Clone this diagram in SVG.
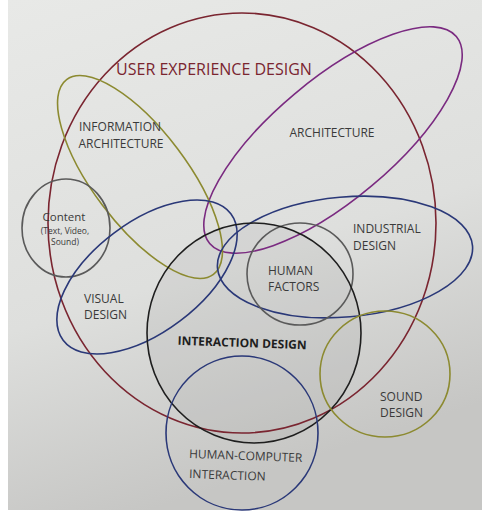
<svg xmlns="http://www.w3.org/2000/svg" width="482" height="516" viewBox="0 0 482 516">
<defs>
<linearGradient id="bg" x1="0" y1="0" x2="0.3" y2="1">
<stop offset="0" stop-color="#e8e9e7"/>
<stop offset="0.6" stop-color="#dedfdd"/>
<stop offset="1" stop-color="#c6c6c4"/>
</linearGradient>
<style>
.c{fill:none;stroke-width:1.6}
.t{font-family:"Open Sans","Noto Sans","Liberation Sans",sans-serif;fill:#3a3a3a;font-size:12px}
.sm{font-size:8.5px}
</style>
</defs>
<rect width="482" height="516" fill="#ffffff"/>
<rect x="8" y="0" width="474" height="510" fill="url(#bg)"/>
<g id="interaction-design-fill"><ellipse cx="254" cy="333" rx="107" ry="110" fill="#8a8a8a" fill-opacity="0.12"/></g>
<g id="connectors"></g>
<g id="ux-design"><ellipse class="c" cx="242" cy="223" rx="194" ry="210" stroke="#7a2530"/>
<text class="t" x="214" y="75" text-anchor="middle" style="font-size:16px;fill:#7a2530">USER EXPERIENCE DESIGN</text></g>
<g id="architecture"><ellipse class="c" cx="333" cy="140" rx="161" ry="60" transform="rotate(-40 333 140)" stroke="#7a2a80"/>
<text class="t" x="332" y="137" text-anchor="middle">ARCHITECTURE</text></g>
<g id="information-architecture"><ellipse class="c" cx="140" cy="177" rx="122" ry="47" transform="rotate(53 140 177)" stroke="#8c8a30"/>
<text class="t" x="120" y="131" text-anchor="middle">INFORMATION</text>
<text class="t" x="121" y="148" text-anchor="middle">ARCHITECTURE</text></g>
<g id="content"><ellipse class="c" cx="66" cy="228" rx="44" ry="49" stroke="#5a5a5a"/>
<text class="t" x="64" y="221" text-anchor="middle" style="font-size:11.5px">Content</text>
<text class="t sm" x="65" y="234" text-anchor="middle">(Text, Video,</text>
<text class="t sm" x="65" y="245" text-anchor="middle">Sound)</text></g>
<g id="visual-design"><ellipse class="c" cx="147" cy="277" rx="105" ry="55" transform="rotate(-37 147 277)" stroke="#2a3878"/>
<text class="t" x="84" y="303">VISUAL</text>
<text class="t" x="84" y="319">DESIGN</text></g>
<g id="industrial-design"><ellipse class="c" cx="345" cy="257" rx="128" ry="60" transform="rotate(-5 345 257)" stroke="#2a3878"/>
<text class="t" x="353" y="233">INDUSTRIAL</text>
<text class="t" x="353" y="250">DESIGN</text></g>
<g id="human-factors"><ellipse class="c" cx="300" cy="274" rx="53" ry="51" stroke="#5a5a5a"/>
<text class="t" x="268" y="275">HUMAN</text>
<text class="t" x="268" y="291">FACTORS</text></g>
<g id="interaction-design"><ellipse class="c" cx="254" cy="333" rx="107" ry="110" stroke="#1e1e1e"/>
<text class="t" x="242" y="347" text-anchor="middle" transform="rotate(2 242 347)" style="fill:#1e1e1e;font-weight:bold">INTERACTION DESIGN</text></g>
<g id="sound-design"><ellipse class="c" cx="385" cy="374" rx="65" ry="63" stroke="#8c8a30"/>
<text class="t" x="380" y="401">SOUND</text>
<text class="t" x="380" y="417">DESIGN</text></g>
<g id="hci"><ellipse class="c" cx="242" cy="433" rx="76" ry="77" stroke="#2a3878"/>
<text class="t" x="189" y="458" transform="rotate(2 189 458)">HUMAN-COMPUTER</text>
<text class="t" x="189" y="478" transform="rotate(2 189 478)">INTERACTION</text></g>
</svg>
